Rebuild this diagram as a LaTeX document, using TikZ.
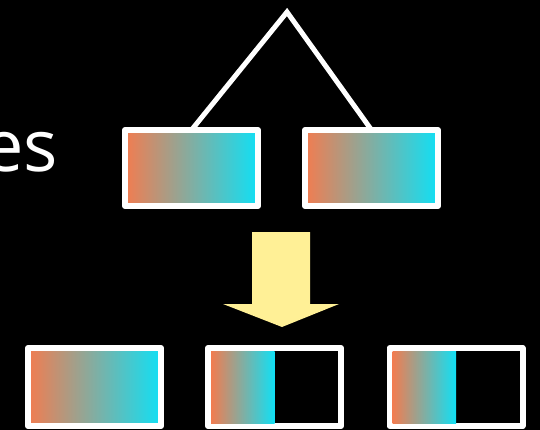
\documentclass[tikz,border=0pt]{standalone}
\usepackage{fontspec}
\setmainfont{Open Sans}
\usetikzlibrary{calc}
\definecolor{warm}{RGB}{242,124,80}
\definecolor{cool}{RGB}{16,224,245}
\definecolor{arrowfill}{RGB}{255,240,150}
\begin{document}
\begin{tikzpicture}[x=1pt,y=-1pt,
  frame/.style={draw=white, line width=6pt, line join=round,
    inner sep=0pt, outer sep=0pt, minimum width=133pt},
  fullbox/.style={frame, minimum height=#1, left color=warm, right color=cool},
  halfbox/.style={frame, minimum height=#1},
  halfshade/.style={left color=warm, right color=cool},
  link/.style={draw=white, line width=5pt, line join=miter}]
  % page area
  \fill[black] (0,0) rectangle (540,430);
  \useasboundingbox (0,0) rectangle (540,430);

  % partial label at the left edge
  \node[anchor=base east, text=white, inner sep=0pt,
        font=\fontsize{72}{80}\selectfont] (label) at (58,172) {es};

  % split point and the two halves
  \coordinate (apex) at (287,12);
  \node[fullbox=76pt] (left)  at (191.5,168) {};
  \node[fullbox=76pt] (right) at (371.5,168) {};
  \draw[link] (left.north) -- (apex) -- (right.north);

  % block arrow
  \fill[arrowfill] (252,232) -- (310,232) -- (310,304) -- (339,304)
    -- (282,327) -- (223,304) -- (252,304) -- cycle;

  % result row: one whole box, two boxes filled on their left half
  \node[fullbox=78pt] (full)  at (94.5,387) {};
  \node[halfbox=78pt] (halfa) at (274.5,387) {};
  \node[halfbox=78pt] (halfb) at (456,387) {};
  \foreach \b in {halfa,halfb}
    \shade[halfshade] ($(\b.north west)+(3,3)$) rectangle ($(\b.south)+(0,-3)$);
\end{tikzpicture}
\end{document}
